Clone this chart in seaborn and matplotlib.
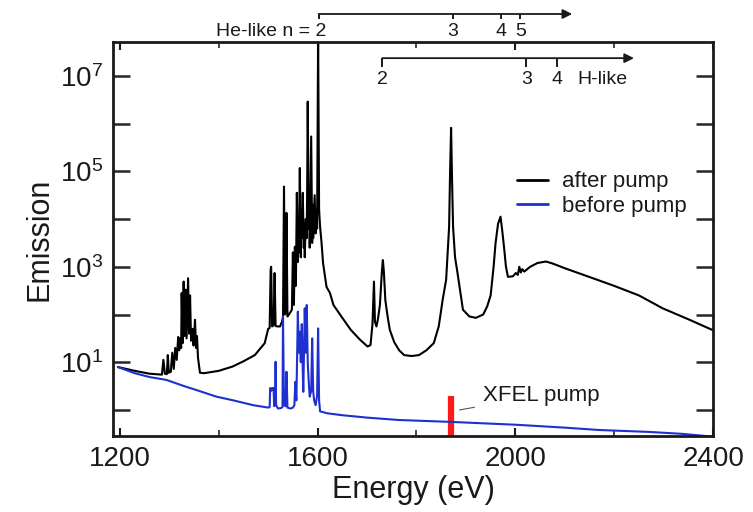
import numpy as np
import pandas as pd
import matplotlib
matplotlib.use("Agg")
import matplotlib.pyplot as plt
import matplotlib.transforms as mtransforms
from matplotlib.ticker import FixedLocator
import seaborn as sns

# ---------------- data ----------------
# "after pump" spectrum: photon energy (eV) and log10(emission)
after_energy = [1196, 1230, 1260, 1285, 1288, 1291, 1295, 1297, 1299, 1303, 1306, 1309,
                1312, 1315, 1318, 1320, 1322, 1324, 1325, 1327, 1329, 1331, 1333, 1335,
                1338, 1340, 1342, 1344, 1347, 1349, 1352, 1354, 1356, 1358, 1362, 1370,
                1400, 1428, 1450, 1473, 1493, 1500, 1503, 1505, 1506, 1508, 1511, 1513,
                1515, 1519, 1524, 1528, 1530, 1532, 1534, 1536, 1537, 1539, 1542, 1545,
                1548, 1550, 1552, 1554, 1556, 1558, 1560, 1561, 1562, 1564, 1566, 1567,
                1568, 1570, 1572, 1573, 1574, 1576, 1578, 1579, 1580, 1582, 1583, 1584,
                1587, 1589, 1590, 1591, 1594, 1596, 1597, 1599, 1601, 1603, 1605, 1608,
                1611, 1618, 1625, 1632, 1648, 1667, 1685,
                1701, 1707, 1711, 1714, 1716, 1719, 1722, 1726, 1730, 1732, 1734, 1737,
                1741, 1746, 1755, 1765, 1775, 1790, 1805, 1820, 1835, 1845, 1853, 1860,
                1866, 1868, 1870, 1872, 1874, 1878, 1883, 1894, 1907, 1920, 1935, 1943,
                1950, 1956, 1960, 1965, 1970, 1973, 1977, 1981, 1985, 1995, 2001, 2005,
                2008, 2011, 2014, 2018, 2030, 2045, 2062, 2075, 2100, 2130, 2165, 2200,
                2250, 2298, 2350, 2400]
after_log = [0.90, 0.82, 0.76, 0.74, 1.05, 0.76, 0.75, 1.15, 0.78, 0.80, 1.20, 0.86,
             1.30, 1.05, 1.53, 1.25, 1.50, 1.30, 2.45, 1.40, 2.69, 1.55, 2.52, 1.50,
             2.76, 1.60, 2.40, 1.45, 1.70, 1.35, 1.89, 1.30, 1.55, 1.10, 0.78, 0.77,
             0.82, 0.91, 1.02, 1.15, 1.40, 1.70, 1.72, 2.95, 3.00, 1.75, 1.78, 2.87,
             1.76, 1.75, 1.75, 1.85, 1.95, 4.68, 2.00, 2.05, 4.13, 1.96, 2.00, 2.05,
             2.10, 3.30, 2.20, 3.42, 2.60, 4.55, 3.10, 3.90, 3.30, 5.07, 3.20, 4.20,
             3.60, 4.55, 3.40, 3.90, 3.20, 4.00, 3.60, 4.80, 6.46, 3.80, 4.50, 3.40,
             5.73, 3.50, 4.30, 3.60, 4.50, 3.70, 4.20, 3.80, 7.90, 4.20, 3.84, 3.50,
             3.08, 2.58, 2.45, 2.20, 1.96, 1.68, 1.48,
             1.33, 1.36, 1.80, 2.69, 1.85, 1.75, 1.90, 2.20, 2.90, 3.14, 2.90, 2.30,
             2.00, 1.68, 1.42, 1.25, 1.15, 1.13, 1.15, 1.25, 1.40, 1.75, 2.31, 2.73,
             3.84, 5.00, 5.91, 4.80, 3.84, 3.20, 2.87, 2.10, 1.96, 1.93, 2.00, 2.17,
             2.40, 3.00, 3.50, 3.90, 4.05, 3.80, 3.42, 3.00, 2.79, 2.80, 2.87, 2.83,
             3.00, 2.88, 2.95, 2.90, 3.00, 3.08, 3.11, 3.07, 2.97, 2.86, 2.73, 2.60,
             2.40, 2.13, 1.90, 1.67]

# "before pump" spectrum
before_energy = [1196, 1230, 1260, 1294, 1330, 1360, 1395, 1430, 1470, 1500, 1503, 1504,
                 1506, 1508, 1510, 1511, 1512, 1514, 1515, 1516, 1520, 1526, 1529, 1530,
                 1532, 1535, 1537, 1539, 1545, 1550, 1553, 1555, 1557, 1559, 1560, 1562,
                 1564, 1566, 1568, 1570, 1571, 1573, 1574, 1576, 1578, 1580, 1582, 1584,
                 1587, 1589, 1591, 1593, 1596, 1599, 1601, 1603, 1605, 1620, 1650, 1700,
                 1764, 1870, 2002, 2100, 2170, 2271, 2337, 2400]
before_log = [0.90, 0.77, 0.69, 0.63, 0.50, 0.40, 0.28, 0.20, 0.10, 0.05, 0.06, 0.46,
              0.40, 0.46, 0.42, 0.46, 0.08, 0.10, 1.01, 0.10, 0.03, 0.04, 0.06, 1.96,
              0.10, 0.08, 0.80, 0.05, 0.03, 0.05, 0.10, 0.59, 0.20, 1.40, 2.06, 1.20,
              1.64, 1.00, 1.80, 0.80, 0.38, 1.50, 2.13, 1.20, 2.20, 1.00, 0.60, 0.28,
              0.40, 1.50, 0.40, 0.20, 0.10, 0.30, 1.71, 0.20, -0.03, -0.07, -0.11, -0.16,
              -0.21, -0.25, -0.31, -0.37, -0.42, -0.46, -0.50, -0.56]

series_labels = ["after pump", "before pump"]
series_colors = ["#000000", "#1f2fd0"]

# XFEL pump marker
xfel_energy = 1870
xfel_top = 2.0
xfel_label = "XFEL pump"

# series-limit level markers
he_levels = [1602, 1873, 1970, 2010]
he_labels = ["He-like n = 2", "3", "4", "5"]
he_arrow_end = 2115
h_levels = [1731, 2022, 2085]
h_labels = ["2", "3", "4"]
h_arrow_end = 2240
h_name = "H-like"

x_major = [1200, 1600, 2000, 2400]
x_minor = [1400, 1800, 2200]
y_decades = [0, 1, 2, 3, 4, 5, 6, 7]

# ---------------- figure ----------------
sns.set_theme(style="ticks")
plt.rcParams["font.family"] = ["Liberation Sans", "DejaVu Sans"]
plt.rcParams["mathtext.fontset"] = "custom"
plt.rcParams["mathtext.rm"] = "Liberation Sans"
plt.rcParams["mathtext.it"] = "Liberation Sans"

fig = plt.figure(figsize=(7.53, 5.12), dpi=100)
ax = fig.add_axes([0.150, 0.148, 0.797, 0.770])
ax.set_yscale("log")

df = pd.concat([
    pd.DataFrame({"Energy": after_energy,
                  "Emission": 10.0 ** np.array(after_log),
                  "series": series_labels[0]}),
    pd.DataFrame({"Energy": before_energy,
                  "Emission": 10.0 ** np.array(before_log),
                  "series": series_labels[1]}),
])

# XFEL pump bar (under the blue line)
ax.vlines(xfel_energy, 0.1, xfel_top, color="#ff1a1a", lw=4.5, zorder=1)

sns.lineplot(data=df, x="Energy", y="Emission", hue="series",
             palette=dict(zip(series_labels, series_colors)),
             estimator=None, sort=False, lw=1.5, ax=ax, zorder=2)

ax.set_xlim(1186, 2400)
ax.set_ylim(10 ** -0.55, 10 ** 7.71)

ax.xaxis.set_major_locator(FixedLocator(x_major))
ax.xaxis.set_minor_locator(FixedLocator(x_minor))
ax.set_xticklabels([str(v) for v in x_major])
ax.yaxis.set_major_locator(FixedLocator([10.0 ** d for d in y_decades]))
ax.yaxis.set_minor_locator(FixedLocator([]))
ax.set_yticklabels([r"$\mathregular{10^{%d}}$" % d if d % 2 == 1 else "" for d in y_decades])

ax.tick_params(axis="x", which="major", direction="in", length=6, width=1.5,
               top=True, labelsize=20, pad=7, color="k", labelcolor="#1a1a1a")
ax.tick_params(axis="x", which="minor", direction="in", length=4, width=1.2, top=True)
ax.tick_params(axis="y", which="major", direction="in", length=12, width=1.8,
               right=True, labelsize=20, pad=7, labelcolor="#1a1a1a")
for s in ax.spines.values():
    s.set_linewidth(2.0)
    s.set_color("k")

ax.set_xlabel("Energy (eV)", fontsize=22, labelpad=2, color="#1a1a1a")
ax.set_ylabel("Emission", fontsize=22, labelpad=4, color="#1a1a1a")

leg = ax.legend(loc="upper left", bbox_to_anchor=(0.655, 0.70), frameon=False,
                fontsize=16, handlelength=1.4, handletextpad=0.6, borderpad=0,
                labelspacing=0.15)
for h in leg.get_lines():
    h.set_linewidth(2)
for t in leg.get_texts():
    t.set_color("#1a1a1a")

# XFEL annotation
ax.annotate(xfel_label, xy=(1887, 1.0), xytext=(1935, 10 ** 0.31),
            fontsize=16, color="#1a1a1a", va="center", ha="left",
            arrowprops=dict(arrowstyle="-", color="#555555", lw=0.8,
                            shrinkA=4, shrinkB=0))

# level markers (He-like above the axes, H-like inside)
trans = mtransforms.blended_transform_factory(ax.transData, ax.transAxes)

def level_bracket(levels, labels, y_line, y_tick, y_text, end, first_ha):
    ax.annotate("", xy=(end, y_line), xytext=(levels[0], y_line), xycoords=trans,
                textcoords=trans, annotation_clip=False,
                arrowprops=dict(arrowstyle="-|>", color="k", lw=1.3,
                                shrinkA=0, shrinkB=0, mutation_scale=14))
    for i, (e, lab) in enumerate(zip(levels, labels)):
        ax.plot([e, e], [y_line, y_tick], color="k", lw=1.4, transform=trans,
                clip_on=False, solid_capstyle="butt")
        if i == 0 and first_ha == "right":
            ax.text(e + 16, y_text, lab, transform=trans, ha="right", va="center",
                    fontsize=14, color="#1a1a1a")
        else:
            ax.text(e, y_text, lab, transform=trans, ha="center", va="center",
                    fontsize=14, color="#1a1a1a")

level_bracket(he_levels, he_labels, 1.071, 1.058, 1.027, he_arrow_end, "right")
level_bracket(h_levels, h_labels, 0.959, 0.937, 0.904, h_arrow_end, "center")
ax.text(2125, 0.904, h_name, transform=trans, ha="left", va="center",
        fontsize=14, color="#1a1a1a")

fig.savefig("out.png", dpi=100)
